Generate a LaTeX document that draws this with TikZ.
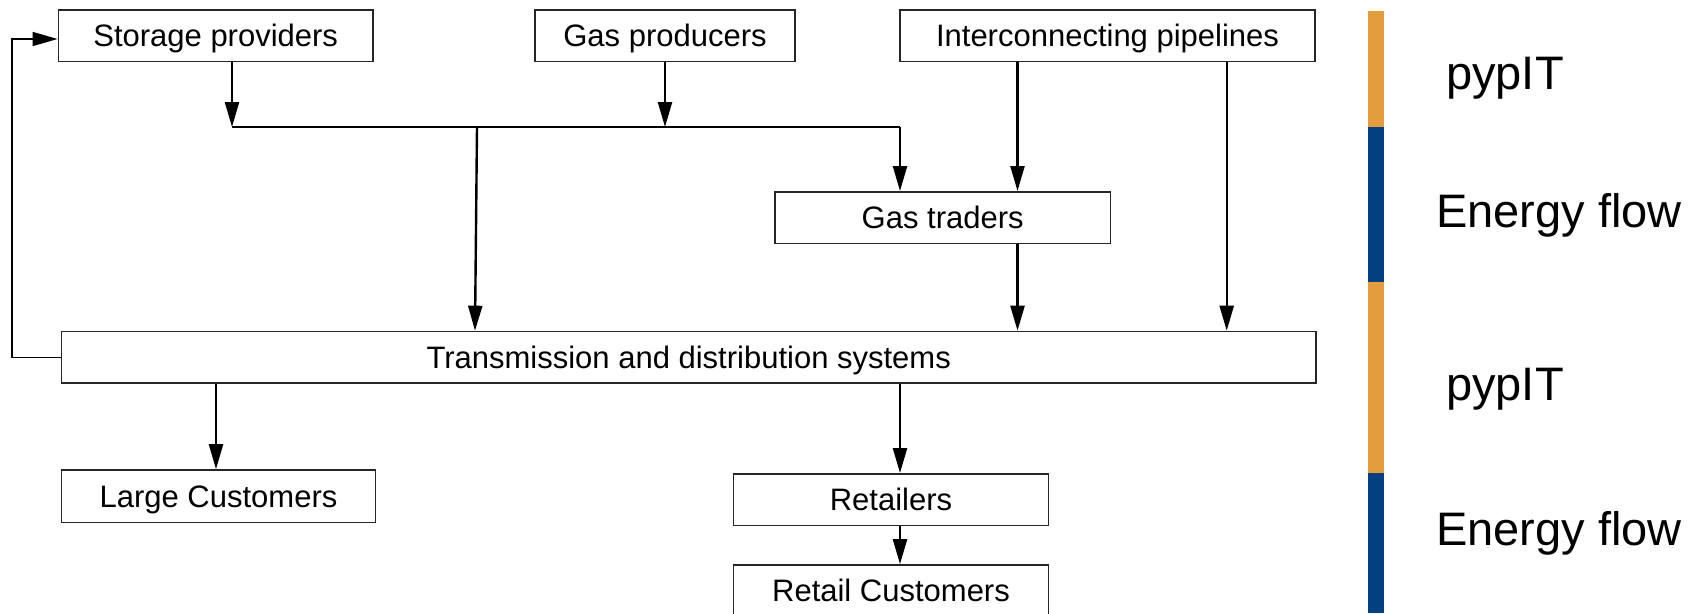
\documentclass[tikz,border=0pt]{standalone}
\usepackage{fontspec}
\setmainfont{Liberation Sans}
\usetikzlibrary{arrows.meta}
\definecolor{barorange}{RGB}{227,156,62}
\definecolor{barblue}{RGB}{2,64,130}
\newcommand{\boxfont}{\fontsize{31}{36}\selectfont}
\newcommand{\sidefont}{\fontsize{47}{54}\selectfont}
\begin{document}
\begin{tikzpicture}[x=1pt, y=-1pt,
    box/.style={draw=black!85, line width=1.5pt, inner sep=0pt, font=\boxfont,
        text height=22.2pt, text depth=0pt, minimum height=51.5pt},
    arr/.style={line width=2.4pt, -{Triangle[length=25pt, width=14pt]}},
    feed/.style={line width=1.4pt},
    side/.style={anchor=base west, inner sep=0pt, font=\sidefont}]
    \useasboundingbox (0, 0) rectangle (1704, 613);
        % actors
        \node[box, minimum width=314.7pt] (storage) at (215.7, 35.8) {Storage providers};
        \node[box, minimum width=260pt] (producers) at (665, 35.8) {Gas producers};
        \node[box, minimum width=415pt] (pipelines) at (1107.5, 35.8) {Interconnecting pipelines};
        \node[box, minimum width=335.5pt] (traders) at (942.7, 217.5) {Gas traders};
        \node[box, minimum width=1254.5pt] (trans) at (688.7, 357.2) {Transmission and distribution systems};
        \node[box, minimum width=313.6pt, minimum height=52.7pt] (large) at (218.5, 496.3) {Large Customers};
        \node[box, minimum width=315pt] (retailers) at (891, 499.5) {Retailers};
        \node[box, minimum width=315pt] (retail) at (891, 590.6) {Retail Customers};
        \coordinate (bus) at (0, 127);
        \coordinate (loop) at (12, 39);
        % flows
        \draw[arr] (232,0 |- storage.south) -- (232,0 |- bus);
        \draw[arr] (producers.south) -- (producers.south |- bus);
        \draw[feed] (232,0 |- bus) -- (900,0 |- bus);
        \draw[arr] (900,0 |- bus) -- (900,0 |- traders.north);
        \draw[arr] (477,0 |- bus) -- (475,0 |- trans.north);
        \draw[arr] (1017.5,0 |- pipelines.south) -- (1017.5,0 |- traders.north);
        \draw[arr] (1226.7,0 |- pipelines.south) -- (1226.7,0 |- trans.north);
        \draw[arr] (1017.5,0 |- traders.south) -- (1017.5,0 |- trans.north);
        \draw[arr] (216,0 |- trans.south) -- (216,0 |- large.north);
        \draw[arr] (900,0 |- trans.south) -- (900,0 |- retailers.north);
        \draw[arr] (900,0 |- retailers.south) -- (900,0 |- retail.north);
        \draw[feed, -{Triangle[length=25pt, width=14pt]}] (trans.west) -| (loop) -- (loop -| storage.west);
        % layers
        \fill[barorange] (1368, 10.5) rectangle (1384, 127);
        \fill[barblue] (1368, 127) rectangle (1384, 282);
        \fill[barorange] (1368, 282) rectangle (1384, 473);
        \fill[barblue] (1368, 473) rectangle (1384, 613);
        \node[side] (it1) at (1446, 89) {pypIT};
        \node[side] (flow1) at (1436, 227) {Energy flow};
        \node[side] (it2) at (1446, 400) {pypIT};
        \node[side] (flow2) at (1436, 545) {Energy flow};
    \end{tikzpicture}
\end{document}
